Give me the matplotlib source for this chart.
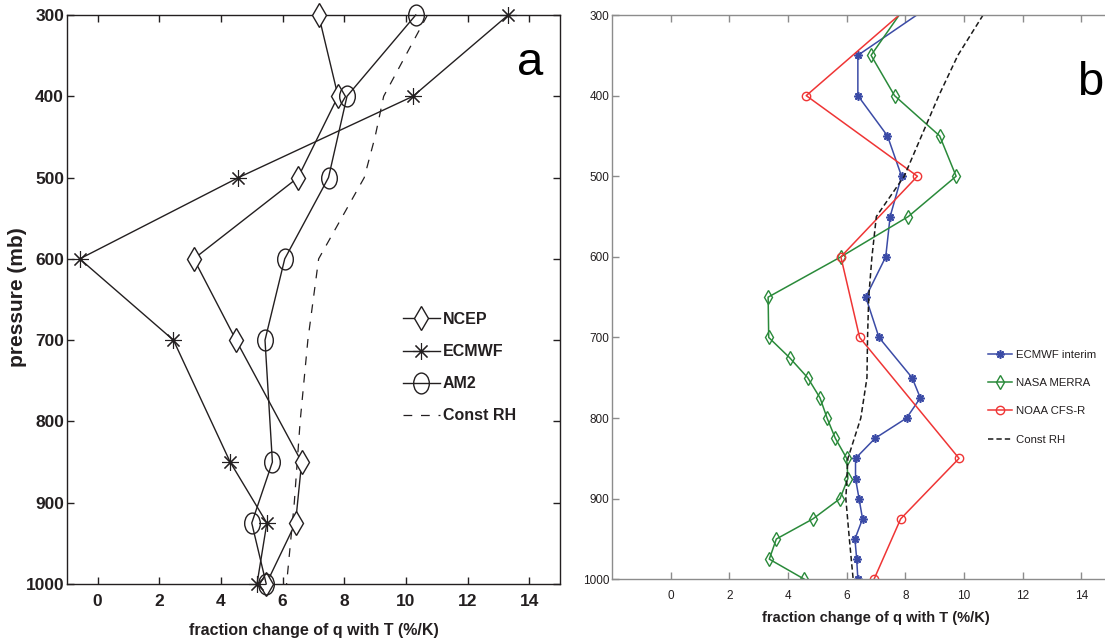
import numpy as np
import matplotlib
matplotlib.use("Agg")
from matplotlib import pyplot as plt
from matplotlib.path import Path

# panel a: reanalysis / model profiles
lev_a = [300, 400, 500, 600, 700, 850, 925, 1000]
ncep = [7.17, 7.80, 6.50, 3.12, 4.49, 6.62, 6.42, 5.47]
ecmwf = [13.32, 10.23, 4.57, -0.58, 2.46, 4.30, 5.49, 5.17]
am2 = [10.32, 8.09, 7.49, 6.07, 5.43, 5.67, 5.00, 5.47]
lev_rh_a = [300, 350, 400, 450, 500, 600, 700, 800, 900, 1000]
rh_a = [10.70, 9.99, 9.28, 9.00, 8.65, 7.17, 6.82, 6.57, 6.38, 6.13]

# panel b: newer reanalyses
lev_ei = [300, 350, 400, 450, 500, 550, 600, 650, 700, 750, 775, 800, 825,
          850, 875, 900, 925, 950, 975, 1000]
ei = [8.39, 6.38, 6.38, 7.39, 7.87, 7.48, 7.33, 6.65, 7.10, 8.23, 8.51, 8.04,
      6.97, 6.30, 6.30, 6.42, 6.54, 6.28, 6.34, 6.38]
lev_merra = [300, 350, 400, 450, 500, 550, 600, 650, 700, 725, 750, 775, 800,
             825, 850, 875, 900, 925, 950, 975, 1000]
merra = [7.79, 6.83, 7.63, 9.17, 9.73, 8.10, 5.80, 3.32, 3.34, 4.05, 4.67,
         5.09, 5.33, 5.61, 6.00, 6.04, 5.77, 4.85, 3.60, 3.36, 4.56]
lev_cfsr = [300, 400, 500, 600, 700, 850, 925, 1000]
cfsr = [7.79, 4.62, 8.41, 5.80, 6.44, 9.83, 7.84, 6.93]
lev_rh_b = [300, 350, 400, 450, 500, 550, 600, 650, 700, 750, 800, 850, 900,
            950, 1000]
rh_b = [10.65, 9.79, 9.14, 8.55, 7.96, 7.01, 6.86, 6.75, 6.71, 6.69, 6.48,
        6.04, 5.97, 6.09, 6.22]

xticks = [0, 2, 4, 6, 8, 10, 12, 14]
yticks = [300, 400, 500, 600, 700, 800, 900, 1000]

ink = '#231f20'
sans = ['Liberation Sans', 'DejaVu Sans']

# slightly squeezed circle, like the printed figure
circ = Path.unit_circle()
oval = Path(circ.vertices * np.array([0.75, 1.0]), circ.codes)

fig = plt.figure(figsize=(11.05, 6.4), dpi=100)

ax = fig.add_axes([66.8 / 1105, 56 / 640, 493.2 / 1105, 569 / 640])
ax.plot(ncep, lev_a, color=ink, lw=1, marker='d', ms=12, mfc='white',
        mec=ink, mew=1, label='NCEP', clip_on=False, zorder=3)
ax.plot(ecmwf, lev_a, color=ink, lw=1, marker=(8, 2, 0), ms=12, mec=ink,
        mew=0.8, label='ECMWF', clip_on=False, zorder=3)
ax.plot(am2, lev_a, color=ink, lw=1, marker=oval, ms=15, mfc='none',
        mec=ink, mew=1, label='AM2', clip_on=False, zorder=3)
ax.plot(rh_a, lev_rh_a, color=ink, lw=0.9, ls=(0, (7, 7)), label='Const RH')
ax.set_xlim(-1, 15)
ax.set_ylim(1000, 300)
ax.set_xticks(xticks)
ax.set_yticks(yticks)
ax.tick_params(direction='in', length=5, top=True, right=True, color=ink,
               labelcolor=ink, width=1)
ax.tick_params(axis='x', pad=7)
ax.tick_params(axis='y', pad=2)
for lab in ax.get_xticklabels() + ax.get_yticklabels():
    lab.set_family(sans)
    lab.set_weight('bold')
    lab.set_size(12.5)
for s in ax.spines.values():
    s.set_color(ink)
    s.set_linewidth(1)
ax.set_xlabel('fraction change of q with T (%/K)', family=sans,
              weight='bold', size=11.5, color=ink, labelpad=10)
fig.text(18 / 1105, 1 - 297 / 640, 'pressure (mb)', rotation=90,
         ha='center', va='center', weight='bold', size=15, color=ink,
         family=sans)
ax.text(0.94, 0.915, 'a', transform=ax.transAxes, ha='center',
        va='center', size=34, family=sans)
ax.legend(loc='upper left', bbox_to_anchor=(403 / 1105, 1 - 312 / 640),
          bbox_transform=fig.transFigure, frameon=False, numpoints=1,
          prop={'family': sans, 'weight': 'bold', 'size': 11.5},
          handlelength=2.3, handletextpad=0.2, labelspacing=1.07,
          borderpad=0, borderaxespad=0, labelcolor=ink)

bx = fig.add_axes([612.1 / 1105, 60.7 / 640, 527.9 / 1105, 564.3 / 640])
grey = '#8c8c8c'
bx.plot(ei, lev_ei, color='#3b4ba6', lw=1.1, marker=(8, 2, 0), ms=6,
        mec='#3b4ba6', mew=1.2, markevery=slice(1, None),
        label='ECMWF interim')
bx.plot(merra, lev_merra, color='#2a8a3a', lw=1.1, marker='d', ms=7,
        mfc='none', mec='#2a8a3a', mew=1, markevery=slice(1, None),
        label='NASA MERRA')
bx.plot(cfsr, lev_cfsr, color='#ef3535', lw=1.1, marker='o', ms=6,
        mfc='none', mec='#ef3535', mew=1, markevery=slice(1, None),
        label='NOAA CFS-R')
bx.plot(rh_b, lev_rh_b, color='#1a1a1a', lw=1.1, ls=(0, (3.5, 2)),
        label='Const RH')
bx.set_xlim(-2, 16)
bx.set_ylim(1000, 300)
bx.set_xticks(xticks)
bx.set_yticks(yticks)
bx.tick_params(direction='in', length=5, top=True, right=True, color=grey,
               labelcolor=ink, labelsize=8.5, width=1)
bx.tick_params(axis='x', pad=8)
bx.tick_params(axis='y', pad=2)
for lab in bx.get_xticklabels() + bx.get_yticklabels():
    lab.set_family(sans)
for s in bx.spines.values():
    s.set_color(grey)
    s.set_linewidth(1)
bx.set_xlabel('fraction change of q with T (%/K)', family=sans,
              weight='bold', size=10.5, color=ink, labelpad=6)
bx.text(1090 / 1105, 1 - 83 / 640, 'b', transform=fig.transFigure,
        ha='center', va='center', size=34, family=sans)
bx.legend(loc='upper left', bbox_to_anchor=(988 / 1105, 1 - 350 / 640),
          bbox_transform=fig.transFigure, frameon=False, numpoints=1,
          prop={'family': sans, 'size': 8.2}, handlelength=2.1,
          handletextpad=0.35, labelspacing=1.6, borderpad=0,
          borderaxespad=0, labelcolor=ink)

fig.savefig('out.png', dpi=100)
